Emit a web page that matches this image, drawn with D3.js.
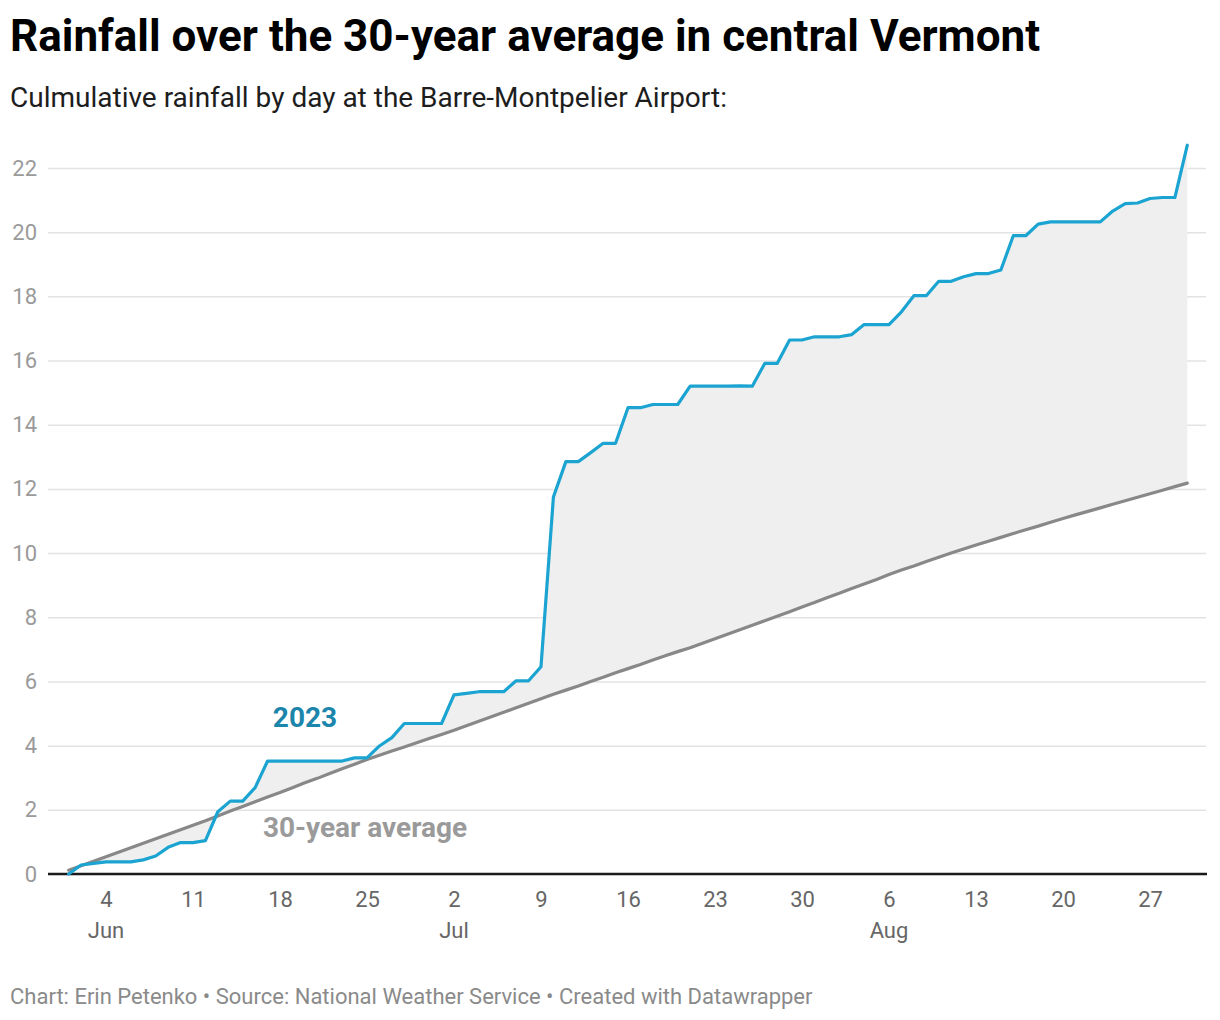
<!DOCTYPE html>
<html>
<head>
<meta charset="utf-8">
<script src="https://cdn.jsdelivr.net/npm/d3@7"></script>
<style>
  html, body { margin: 0; padding: 0; background: #fff; }
  svg { display: block; font-family: Roboto, "Noto Sans", sans-serif; }
</style>
</head>
<body>
<svg id="chart" width="1220" height="1020"></svg>
<script>
// ---- data ----
const startDate = "2023-06-01";
// Cumulative 2023 rainfall (inches), one value per day from Jun 1 to Aug 30
const rain2023 = [
  0.00, 0.28, 0.33, 0.38, 0.38, 0.38, 0.44, 0.56, 0.83, 0.98,
  0.98, 1.04, 1.94, 2.27, 2.27, 2.69, 3.52, 3.52, 3.52, 3.52,
  3.52, 3.52, 3.52, 3.62, 3.62, 3.99, 4.25, 4.69, 4.69, 4.69,
  4.69, 5.58, 5.63, 5.68, 5.68, 5.68, 6.02, 6.02, 6.46, 11.75,
  12.85, 12.85, 13.13, 13.42, 13.42, 14.53, 14.53, 14.63, 14.63, 14.63,
  15.20, 15.20, 15.20, 15.20, 15.21, 15.20, 15.91, 15.91, 16.64, 16.64,
  16.74, 16.74, 16.74, 16.81, 17.12, 17.12, 17.12, 17.52, 18.02, 18.02,
  18.47, 18.47, 18.61, 18.71, 18.71, 18.82, 19.89, 19.89, 20.25, 20.32,
  20.32, 20.32, 20.32, 20.32, 20.66, 20.89, 20.91, 21.05, 21.08, 21.08,
  22.71
];
// Cumulative 30-year average rainfall (inches), same days
const rainAverage = [
  0.12, 0.26, 0.40, 0.54, 0.68, 0.82, 0.96, 1.10, 1.24, 1.38,
  1.52, 1.66, 1.81, 1.96, 2.10, 2.25, 2.40, 2.54, 2.69, 2.84,
  2.98, 3.13, 3.28, 3.42, 3.57, 3.70, 3.83, 3.96, 4.09, 4.22,
  4.35, 4.48, 4.62, 4.76, 4.90, 5.04, 5.18, 5.32, 5.46, 5.60,
  5.73, 5.86, 6.00, 6.13, 6.27, 6.40, 6.53, 6.67, 6.80, 6.93,
  7.05, 7.19, 7.33, 7.47, 7.61, 7.75, 7.89, 8.03, 8.17, 8.32,
  8.46, 8.61, 8.75, 8.90, 9.04, 9.18, 9.33, 9.47, 9.60, 9.74,
  9.87, 10.00, 10.13, 10.25, 10.37, 10.49, 10.61, 10.73, 10.84, 10.96,
  11.08, 11.19, 11.30, 11.41, 11.52, 11.63, 11.74, 11.85, 11.96, 12.07,
  12.18
];
const yTicks = [0, 2, 4, 6, 8, 10, 12, 14, 16, 18, 20, 22];
const xTickDates = ["2023-06-04","2023-06-11","2023-06-18","2023-06-25","2023-07-02","2023-07-09",
  "2023-07-16","2023-07-23","2023-07-30","2023-08-06","2023-08-13","2023-08-20","2023-08-27"];
const monthLabels = [
  { date: "2023-06-04", label: "Jun" },
  { date: "2023-07-02", label: "Jul" },
  { date: "2023-08-06", label: "Aug" }
];

const titleText = "Rainfall over the 30-year average in central Vermont";
const subtitleText = "Culmulative rainfall by day at the Barre-Montpelier Airport:";
const footerText = "Chart: Erin Petenko • Source: National Weather Service • Created with Datawrapper";

// ---- build ----
const parse = d3.utcParse("%Y-%m-%d");
const start = parse(startDate);
const rows = rain2023.map((v, i) => ({
  date: d3.utcDay.offset(start, i),
  y2023: v,
  avg: rainAverage[i]
}));

const svg = d3.select("#chart");
const x = d3.scaleUtc()
  .domain([rows[0].date, rows[rows.length - 1].date])
  .range([68.7, 1187.3]);
const y = d3.scaleLinear().domain([0, 22]).range([874, 168]);

// title / subtitle
svg.append("text").attr("x", 10).attr("y", 51)
  .attr("font-size", 44).attr("font-weight", 700).attr("fill", "#000")
  .text(titleText);
svg.append("text").attr("x", 10).attr("y", 107)
  .attr("font-size", 28).attr("fill", "#1d1d1d")
  .text(subtitleText);

// gridlines + y labels
const yAxis = d3.axisLeft(y).tickValues(yTicks).tickSize(-(1206 - 48)).tickPadding(11).tickFormat(d3.format("d"));
const gy = svg.append("g").attr("transform", "translate(48,0)").call(yAxis);
gy.select(".domain").remove();
gy.selectAll(".tick line").attr("stroke", "#e3e3e3").attr("stroke-width", 1.5);
gy.selectAll(".tick text").attr("font-size", 22).attr("fill", "#9a9a9a")
  .attr("font-family", "Roboto, sans-serif").attr("x", -11);

// area between
const area = d3.area()
  .x(d => x(d.date))
  .y0(d => y(d.avg))
  .y1(d => y(d.y2023));
svg.append("path").datum(rows).attr("d", area).attr("fill", "#efefef");

// zero baseline
svg.append("line").attr("x1", 48).attr("x2", 1207).attr("y1", y(0)).attr("y2", y(0))
  .attr("stroke", "#1a1a1a").attr("stroke-width", 2.5);

// lines
const lineAvg = d3.line().x(d => x(d.date)).y(d => y(d.avg));
const line23 = d3.line().x(d => x(d.date)).y(d => y(d.y2023));
svg.append("path").datum(rows).attr("d", lineAvg)
  .attr("fill", "none").attr("stroke", "#888888").attr("stroke-width", 3.2)
  .attr("stroke-linejoin", "round").attr("stroke-linecap", "round");
svg.append("path").datum(rows).attr("d", line23)
  .attr("fill", "none").attr("stroke", "#1ba4d1").attr("stroke-width", 3.2)
  .attr("stroke-linejoin", "round").attr("stroke-linecap", "round");

// x axis
const xAxis = d3.axisBottom(x).tickValues(xTickDates.map(parse)).tickSize(0).tickPadding(0)
  .tickFormat(d3.utcFormat("%-d"));
const gx = svg.append("g").attr("transform", "translate(0,907)").call(xAxis);
gx.select(".domain").remove();
gx.selectAll(".tick text").attr("font-size", 22).attr("fill", "#666")
  .attr("font-family", "Roboto, sans-serif").attr("dy", 0);

svg.append("g").selectAll("text").data(monthLabels).join("text")
  .attr("x", d => x(parse(d.date))).attr("y", 938)
  .attr("text-anchor", "middle").attr("font-size", 22).attr("fill", "#666")
  .text(d => d.label);

// direct labels
svg.append("text").attr("x", 305).attr("y", 727).attr("text-anchor", "middle")
  .attr("font-size", 28).attr("font-weight", 700).attr("fill", "#1b85ab").text("2023");
svg.append("text").attr("x", 365).attr("y", 837).attr("text-anchor", "middle")
  .attr("font-size", 28).attr("font-weight", 700).attr("fill", "#9a9a9a").text("30-year average");

// footer
svg.append("text").attr("x", 10).attr("y", 1004)
  .attr("font-size", 22).attr("fill", "#8a8a8a").text(footerText);
</script>
</body>
</html>
